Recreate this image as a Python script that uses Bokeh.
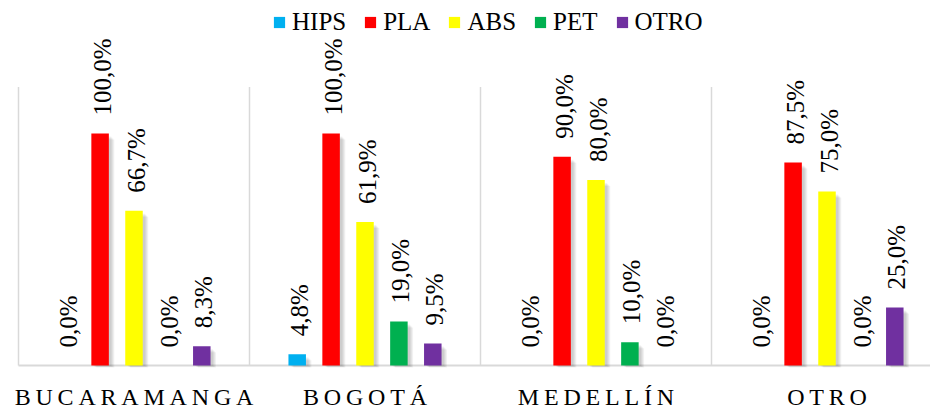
import numpy as np
from bokeh.plotting import figure
from bokeh.models import ColumnDataSource, Range1d, FixedTicker, Legend, LegendItem
from bokeh.core.properties import value
from bokeh.embed import file_html
from bokeh.resources import INLINE

# Share of each filament material by city (%)
cities = ["BUCARAMANGA", "BOGOTÁ", "MEDELLÍN", "OTRO"]
materials = ["HIPS", "PLA", "ABS", "PET", "OTRO"]
colors = ["#00B0F0", "#FF0000", "#FFFF00", "#00B050", "#7030A0"]
hips = [0.0, 4.8, 0.0, 0.0]
pla = [100.0, 100.0, 90.0, 87.5]
abs_ = [66.7, 61.9, 80.0, 75.0]
pet = [0.0, 19.0, 10.0, 0.0]
otro = [8.3, 9.5, 0.0, 25.0]
series = [hips, pla, abs_, pet, otro]
y_top = 120.0

FONT = "'Liberation Serif', 'Times New Roman', serif"
W, H = 930, 412
cat_px = 231.0          # width of one city group in pixels
ypx = 2.32              # pixels per percentage point
left_pad = 18.0
frame_h = 367

x0 = -0.5 - left_pad / cat_px
x1 = x0 + W / cat_px
y0 = -(frame_h - 365) / ypx
y1 = 365 / ypx

p = figure(frame_width=W, frame_height=frame_h, output_backend="svg",
           toolbar_location=None,
           x_range=Range1d(x0, x1), y_range=Range1d(y0, y1),
           min_border_left=0, min_border_right=0, min_border_top=0,
           min_border_bottom=H - frame_h)
p.outline_line_color = None
p.xgrid.visible = False
p.ygrid.visible = False
p.yaxis.visible = False
p.background_fill_color = "white"
p.border_fill_color = "white"

step = 33.9 / cat_px
bw = 17.5 / cat_px
px = 1.0 / cat_px
base = np.arange(len(cities), dtype=float)

# group separators and baseline
seps = np.arange(len(cities) + 1) - 0.5
p.segment(x0=seps, y0=[0] * len(seps), x1=seps, y1=[y_top] * len(seps),
          line_color="#D9D9D9", line_width=1.5)
p.segment(x0=[seps[0]], y0=[0], x1=[seps[-1]], y1=[0],
          line_color="#D9D9D9", line_width=2)

items = []
for j, (name, col, vals) in enumerate(zip(materials, colors, series)):
    xs = base + (j - 2) * step
    v = np.array(vals)
    # soft drop shadow to the right of each bar
    for k in range(1, 5):
        mask = v > 0
        p.quad(left=xs[mask] - bw / 2 + (k + 1) * px,
               right=xs[mask] + bw / 2 + (k + 1.5) * px,
               top=v[mask] - (k + 2) / ypx,
               bottom=np.zeros(mask.sum()) - k * 0.6 / ypx,
               fill_color="black", fill_alpha=0.05, line_color=None)
    src = ColumnDataSource(dict(x=xs, top=v,
                                lab=[f"{t:.1f}%".replace(".", ",") for t in vals]))
    r = p.vbar(x="x", top="top", bottom=0, width=bw, source=src,
               fill_color=col, line_color=None)
    items.append(LegendItem(label=name, renderers=[r]))
    p.text(x="x", y="top", text="lab", source=src, angle=np.pi / 2,
           text_align="left", text_baseline="middle",
           x_offset=2, y_offset=-18,
           text_font=value(FONT), text_font_size="25px", text_color="#000000")

# city names along the bottom, letter-spaced
p.xaxis.ticker = FixedTicker(ticks=list(base))
p.xaxis.major_label_overrides = {int(i): "\u2009".join(c) for i, c in enumerate(cities)}
p.xaxis.major_label_text_font = FONT
p.xaxis.major_label_text_font_size = "24px"
p.xaxis.major_label_text_color = "#000000"
p.xaxis.major_label_standoff = 10
p.xaxis.axis_line_color = None
p.xaxis.major_tick_line_color = None
p.xaxis.minor_tick_line_color = None

legend = Legend(items=items, orientation="horizontal", location=(272, 331),
                label_text_font=FONT, label_text_font_size="25px",
                label_text_color="#000000", glyph_width=14, glyph_height=14,
                label_standoff=6, spacing=17, padding=0, margin=0,
                border_line_color=None, background_fill_alpha=0)
p.add_layout(legend)

open("out.html", "w").write(file_html(p, INLINE))
